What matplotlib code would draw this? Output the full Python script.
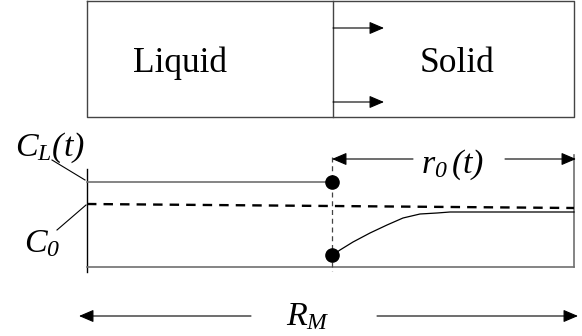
import matplotlib.pyplot as plt

plt.rcParams['font.family'] = ['Liberation Serif', 'DejaVu Serif']
plt.rcParams['mathtext.fontset'] = 'custom'
plt.rcParams['mathtext.rm'] = 'Liberation Serif:italic'
plt.rcParams['mathtext.it'] = 'Liberation Serif:italic'

# geometry of the sketch, in pixel units (y grows downwards)
box_x = [87, 333, 574]          # left edge, interface, right edge
box_y = [1, 117]                # top, bottom
front_arrow_y = [28, 102]
front_arrow_len = 51

plot_x = [87, 332, 574]         # left wall, interface, right wall
wall_y = [169, 272]
right_wall_y = [155, 267]
level_CL = 182
level_C0 = [204, 208]
level_base = 267
interface_dash_y = [157, 271]
dots_y = [182, 255]

# solid concentration profile
profile_x = [333, 340, 353, 370, 387, 403, 420, 437, 450, 480, 574]
profile_y = [255, 250, 242, 233, 225, 218, 214, 213, 212, 212, 212]

r0_arrow_y = 159
r0_gap = [413, 505]
RM_arrow_y = 316
RM_ends = [79, 578]
RM_gap = [251, 377]

gray = '#707070'
dark = '#444444'

fig = plt.figure(figsize=(5.82, 3.36), dpi=100)
ax = fig.add_axes([0, 0, 1, 1])
ax.set_xlim(0, 582)
ax.set_ylim(336, 0)
ax.axis('off')

# top box: liquid | solid
ax.plot([box_x[0], box_x[2], box_x[2], box_x[0], box_x[0]],
        [box_y[0], box_y[0], box_y[1], box_y[1], box_y[0]], color=dark, lw=1)
ax.plot([box_x[1], box_x[1]], box_y, color=dark, lw=1)
arrow_kw = dict(arrowstyle='-|>,head_length=0.75,head_width=0.32',
                color='black', lw=0.8, mutation_scale=12, shrinkA=0, shrinkB=0)
for y in front_arrow_y:
    ax.annotate('', xy=(box_x[1] + front_arrow_len, y), xytext=(box_x[1], y),
                arrowprops=arrow_kw)
ax.text(180, 63, 'Liquid', fontsize=25.5, ha='center', va='center')
ax.text(457, 63, 'Solid', fontsize=25.5, ha='center', va='center')

# concentration profile panel
ax.plot([plot_x[0], plot_x[0]], wall_y, color='black', lw=1)
ax.plot([plot_x[2], plot_x[2]], right_wall_y, color=gray, lw=1.2)
ax.plot([plot_x[0], plot_x[2]], [level_base, level_base], color=gray, lw=1.2)
ax.plot([plot_x[0], plot_x[1]], [level_CL, level_CL], color=gray, lw=1.2)
ax.plot([plot_x[0], plot_x[2]], level_C0, color='black', lw=1.7,
        dashes=(4, 3))
ax.plot([plot_x[1], plot_x[1]], interface_dash_y, color=dark, lw=0.9,
        dashes=(4, 3))
ax.plot(profile_x, profile_y, color='black', lw=0.9)
ax.plot([plot_x[1]] * 2, dots_y, 'o', color='black', ms=9.5)

# labels with leader lines
ax.text(15, 148, r'$C_L(t)$', fontsize=24.5, ha='left', va='center')
ax.plot([52, 85], [160, 180], color='black', lw=0.8)
ax.text(24, 244, r'$C_0$', fontsize=24.5, ha='left', va='center')
ax.plot([57, 86], [230, 205], color='black', lw=0.8)

# r0(t) dimension arrow
ax.annotate('', xy=(plot_x[1], r0_arrow_y), xytext=(r0_gap[0], r0_arrow_y),
            arrowprops=arrow_kw)
ax.annotate('', xy=(plot_x[2] + 2, r0_arrow_y), xytext=(r0_gap[1], r0_arrow_y),
            arrowprops=arrow_kw)
ax.text(453, 165, r'$r_0\,(t)$', fontsize=24.5, ha='center', va='center')

# R_M dimension arrow
ax.annotate('', xy=(RM_ends[0], RM_arrow_y), xytext=(RM_gap[0], RM_arrow_y),
            arrowprops=arrow_kw)
ax.annotate('', xy=(RM_ends[1], RM_arrow_y), xytext=(RM_gap[1], RM_arrow_y),
            arrowprops=arrow_kw)
ax.text(308, 317, r'$R_M$', fontsize=24.5, ha='center', va='center')

fig.savefig('out.png', dpi=100)
